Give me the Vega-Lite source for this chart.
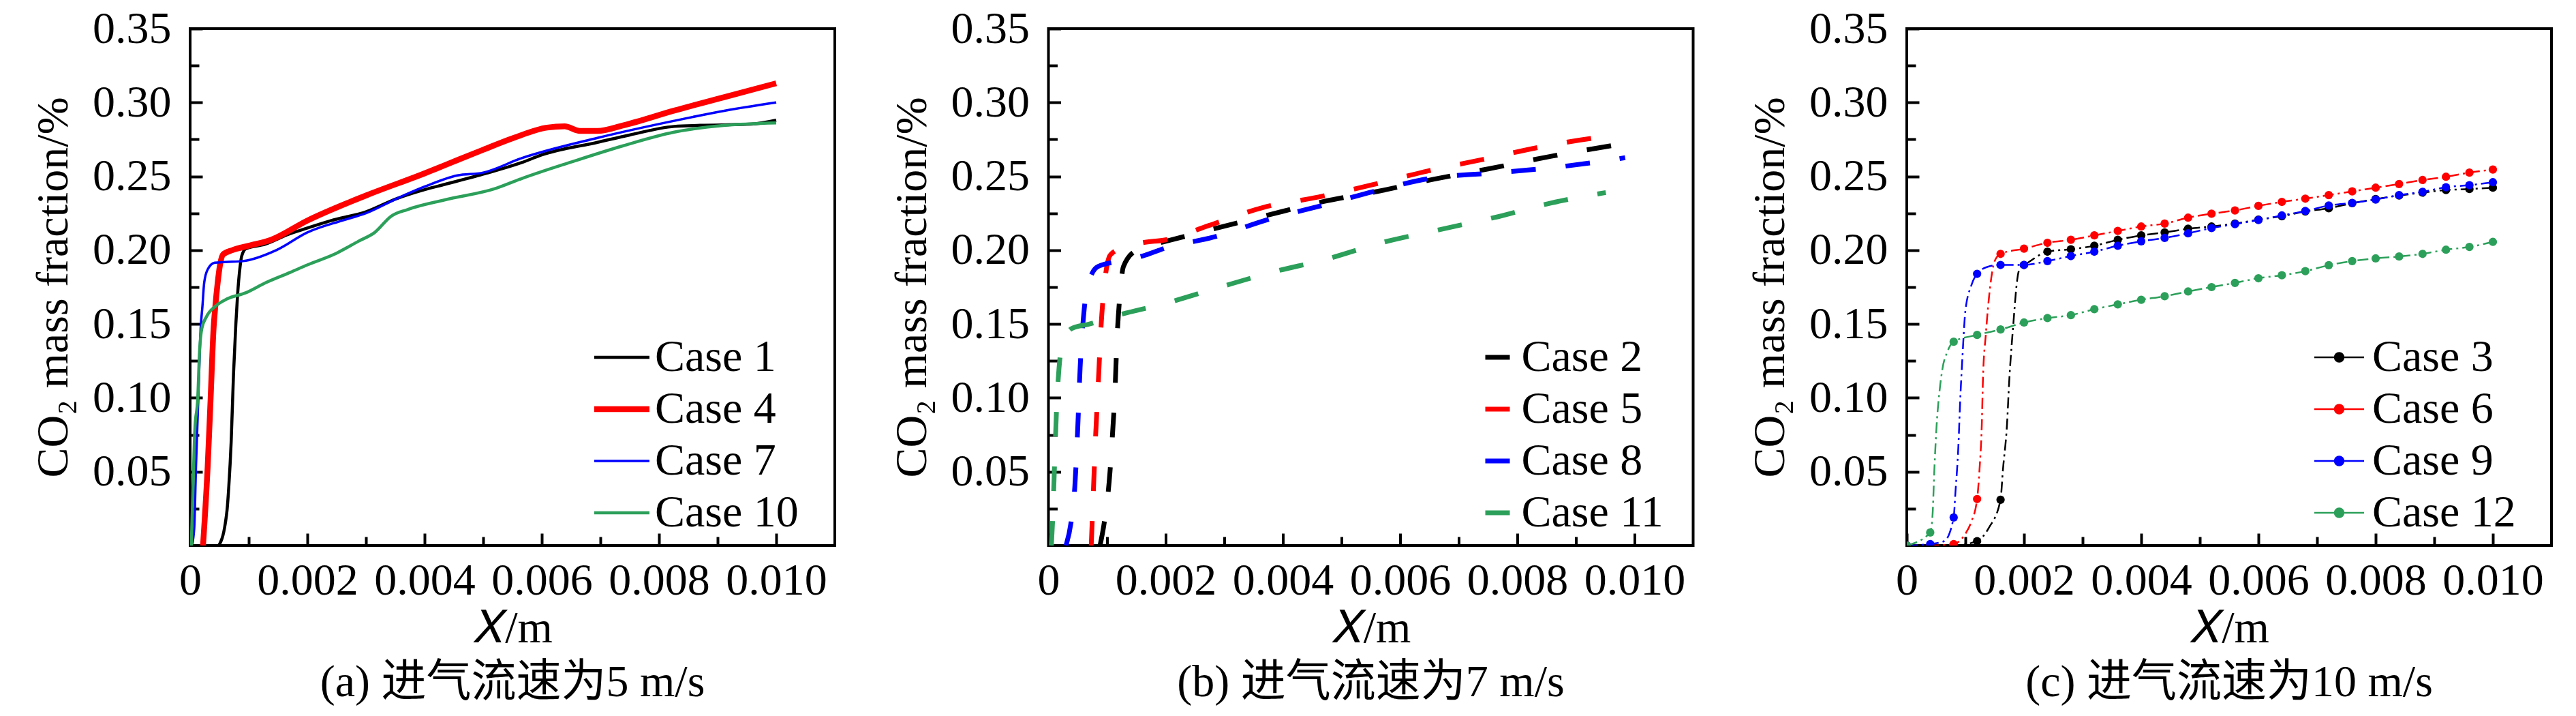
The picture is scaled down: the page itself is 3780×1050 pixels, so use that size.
{
  "$schema": "https://vega.github.io/schema/vega-lite/v6.json",
  "background": "white",
  "padding": {"left": 43, "top": 7, "right": 0, "bottom": 0},
  "datasets": {
    "a": [
      {"c": "Case 1", "x": 0.00049, "y": 0}, {"c": "Case 1", "x": 0.0006, "y": 0.015}, {"c": "Case 1", "x": 0.00063, "y": 0.024},
      {"c": "Case 1", "x": 0.00066, "y": 0.04}, {"c": "Case 1", "x": 0.0007, "y": 0.07}, {"c": "Case 1", "x": 0.00074, "y": 0.116},
      {"c": "Case 1", "x": 0.00078, "y": 0.15}, {"c": "Case 1", "x": 0.00081, "y": 0.17}, {"c": "Case 1", "x": 0.00085, "y": 0.188},
      {"c": "Case 1", "x": 0.00088, "y": 0.196}, {"c": "Case 1", "x": 0.00095, "y": 0.201}, {"c": "Case 1", "x": 0.00128, "y": 0.204},
      {"c": "Case 1", "x": 0.00166, "y": 0.2105}, {"c": "Case 1", "x": 0.002, "y": 0.215}, {"c": "Case 1", "x": 0.0024, "y": 0.22},
      {"c": "Case 1", "x": 0.003, "y": 0.226}, {"c": "Case 1", "x": 0.00353, "y": 0.235}, {"c": "Case 1", "x": 0.004, "y": 0.241},
      {"c": "Case 1", "x": 0.00435, "y": 0.2446}, {"c": "Case 1", "x": 0.005, "y": 0.2515}, {"c": "Case 1", "x": 0.00565, "y": 0.2592},
      {"c": "Case 1", "x": 0.006, "y": 0.2645}, {"c": "Case 1", "x": 0.00695, "y": 0.273}, {"c": "Case 1", "x": 0.0075, "y": 0.278},
      {"c": "Case 1", "x": 0.00826, "y": 0.2838}, {"c": "Case 1", "x": 0.0087, "y": 0.2845}, {"c": "Case 1", "x": 0.00957, "y": 0.2853},
      {"c": "Case 1", "x": 0.01, "y": 0.288},
      {"c": "Case 4", "x": 0.00022, "y": 0}, {"c": "Case 4", "x": 0.0003, "y": 0.054}, {"c": "Case 4", "x": 0.00035, "y": 0.1},
      {"c": "Case 4", "x": 0.0004, "y": 0.147}, {"c": "Case 4", "x": 0.00043, "y": 0.162}, {"c": "Case 4", "x": 0.00047, "y": 0.178},
      {"c": "Case 4", "x": 0.00051, "y": 0.19}, {"c": "Case 4", "x": 0.00056, "y": 0.197}, {"c": "Case 4", "x": 0.00072, "y": 0.2},
      {"c": "Case 4", "x": 0.001, "y": 0.203}, {"c": "Case 4", "x": 0.00138, "y": 0.207}, {"c": "Case 4", "x": 0.002, "y": 0.22},
      {"c": "Case 4", "x": 0.003, "y": 0.237}, {"c": "Case 4", "x": 0.004, "y": 0.252}, {"c": "Case 4", "x": 0.00435, "y": 0.2576},
      {"c": "Case 4", "x": 0.005, "y": 0.268}, {"c": "Case 4", "x": 0.00552, "y": 0.276}, {"c": "Case 4", "x": 0.00609, "y": 0.283},
      {"c": "Case 4", "x": 0.00639, "y": 0.2838}, {"c": "Case 4", "x": 0.00665, "y": 0.2807}, {"c": "Case 4", "x": 0.00695, "y": 0.2807},
      {"c": "Case 4", "x": 0.00739, "y": 0.2845}, {"c": "Case 4", "x": 0.00826, "y": 0.2945}, {"c": "Case 4", "x": 0.00913, "y": 0.3038},
      {"c": "Case 4", "x": 0.01, "y": 0.313},
      {"c": "Case 7", "x": 0.00003, "y": 0}, {"c": "Case 7", "x": 0.00007, "y": 0.012}, {"c": "Case 7", "x": 0.0001, "y": 0.054},
      {"c": "Case 7", "x": 0.00014, "y": 0.1}, {"c": "Case 7", "x": 0.00018, "y": 0.147}, {"c": "Case 7", "x": 0.00021, "y": 0.162},
      {"c": "Case 7", "x": 0.00024, "y": 0.178}, {"c": "Case 7", "x": 0.0003, "y": 0.187}, {"c": "Case 7", "x": 0.00042, "y": 0.1915},
      {"c": "Case 7", "x": 0.0006, "y": 0.192}, {"c": "Case 7", "x": 0.0009, "y": 0.1926}, {"c": "Case 7", "x": 0.00147, "y": 0.2},
      {"c": "Case 7", "x": 0.002, "y": 0.212}, {"c": "Case 7", "x": 0.00259, "y": 0.22}, {"c": "Case 7", "x": 0.003, "y": 0.225},
      {"c": "Case 7", "x": 0.00353, "y": 0.235}, {"c": "Case 7", "x": 0.004, "y": 0.243}, {"c": "Case 7", "x": 0.00456, "y": 0.2506},
      {"c": "Case 7", "x": 0.005, "y": 0.2525}, {"c": "Case 7", "x": 0.00565, "y": 0.2622}, {"c": "Case 7", "x": 0.00695, "y": 0.276},
      {"c": "Case 7", "x": 0.00826, "y": 0.2876}, {"c": "Case 7", "x": 0.00913, "y": 0.2945}, {"c": "Case 7", "x": 0.01, "y": 0.3},
      {"c": "Case 10", "x": 0.00002, "y": 0}, {"c": "Case 10", "x": 0.00005, "y": 0.04}, {"c": "Case 10", "x": 0.00008, "y": 0.078},
      {"c": "Case 10", "x": 0.00013, "y": 0.1}, {"c": "Case 10", "x": 0.00016, "y": 0.131}, {"c": "Case 10", "x": 0.0002, "y": 0.147},
      {"c": "Case 10", "x": 0.00028, "y": 0.155}, {"c": "Case 10", "x": 0.00043, "y": 0.162}, {"c": "Case 10", "x": 0.00063, "y": 0.167},
      {"c": "Case 10", "x": 0.00094, "y": 0.171}, {"c": "Case 10", "x": 0.00129, "y": 0.178}, {"c": "Case 10", "x": 0.00171, "y": 0.185},
      {"c": "Case 10", "x": 0.002, "y": 0.19}, {"c": "Case 10", "x": 0.0025, "y": 0.198}, {"c": "Case 10", "x": 0.00287, "y": 0.206},
      {"c": "Case 10", "x": 0.00315, "y": 0.212}, {"c": "Case 10", "x": 0.00343, "y": 0.223}, {"c": "Case 10", "x": 0.00371, "y": 0.2275},
      {"c": "Case 10", "x": 0.00435, "y": 0.2341}, {"c": "Case 10", "x": 0.00522, "y": 0.2419}, {"c": "Case 10", "x": 0.00565, "y": 0.2484},
      {"c": "Case 10", "x": 0.00652, "y": 0.2599}, {"c": "Case 10", "x": 0.00739, "y": 0.2707}, {"c": "Case 10", "x": 0.00826, "y": 0.2799},
      {"c": "Case 10", "x": 0.00913, "y": 0.2845}, {"c": "Case 10", "x": 0.01, "y": 0.2862}
    ],
    "b": [
      {"c": "Case 2", "x": 0.00088, "y": 0}, {"c": "Case 2", "x": 0.00095, "y": 0.015}, {"c": "Case 2", "x": 0.00105, "y": 0.05},
      {"c": "Case 2", "x": 0.0011, "y": 0.08}, {"c": "Case 2", "x": 0.00113, "y": 0.1}, {"c": "Case 2", "x": 0.00117, "y": 0.14},
      {"c": "Case 2", "x": 0.00122, "y": 0.17}, {"c": "Case 2", "x": 0.00128, "y": 0.189}, {"c": "Case 2", "x": 0.0015, "y": 0.2},
      {"c": "Case 2", "x": 0.0018, "y": 0.204}, {"c": "Case 2", "x": 0.002, "y": 0.206}, {"c": "Case 2", "x": 0.00283, "y": 0.2145},
      {"c": "Case 2", "x": 0.00377, "y": 0.224}, {"c": "Case 2", "x": 0.0047, "y": 0.233}, {"c": "Case 2", "x": 0.00564, "y": 0.24},
      {"c": "Case 2", "x": 0.00657, "y": 0.248}, {"c": "Case 2", "x": 0.0075, "y": 0.255}, {"c": "Case 2", "x": 0.00858, "y": 0.2636},
      {"c": "Case 2", "x": 0.00964, "y": 0.271},
      {"c": "Case 5", "x": 0.00073, "y": 0}, {"c": "Case 5", "x": 0.00076, "y": 0.03}, {"c": "Case 5", "x": 0.0008, "y": 0.07},
      {"c": "Case 5", "x": 0.00085, "y": 0.11}, {"c": "Case 5", "x": 0.0009, "y": 0.15}, {"c": "Case 5", "x": 0.00095, "y": 0.175},
      {"c": "Case 5", "x": 0.001, "y": 0.19}, {"c": "Case 5", "x": 0.00106, "y": 0.197}, {"c": "Case 5", "x": 0.0013, "y": 0.202},
      {"c": "Case 5", "x": 0.0016, "y": 0.205}, {"c": "Case 5", "x": 0.002, "y": 0.207}, {"c": "Case 5", "x": 0.00274, "y": 0.2167},
      {"c": "Case 5", "x": 0.00367, "y": 0.229}, {"c": "Case 5", "x": 0.00461, "y": 0.236}, {"c": "Case 5", "x": 0.00554, "y": 0.2444},
      {"c": "Case 5", "x": 0.00648, "y": 0.2537}, {"c": "Case 5", "x": 0.00741, "y": 0.2614}, {"c": "Case 5", "x": 0.00839, "y": 0.2698},
      {"c": "Case 5", "x": 0.00933, "y": 0.276}, {"c": "Case 5", "x": 0.00954, "y": 0.277},
      {"c": "Case 8", "x": 0.0003, "y": 0}, {"c": "Case 8", "x": 0.0004, "y": 0.02}, {"c": "Case 8", "x": 0.00045, "y": 0.04},
      {"c": "Case 8", "x": 0.0005, "y": 0.08}, {"c": "Case 8", "x": 0.00054, "y": 0.12}, {"c": "Case 8", "x": 0.00061, "y": 0.16},
      {"c": "Case 8", "x": 0.0007, "y": 0.18}, {"c": "Case 8", "x": 0.00085, "y": 0.189}, {"c": "Case 8", "x": 0.00129, "y": 0.193},
      {"c": "Case 8", "x": 0.0016, "y": 0.196}, {"c": "Case 8", "x": 0.002, "y": 0.2015}, {"c": "Case 8", "x": 0.00283, "y": 0.209},
      {"c": "Case 8", "x": 0.00377, "y": 0.221}, {"c": "Case 8", "x": 0.0047, "y": 0.2306}, {"c": "Case 8", "x": 0.00564, "y": 0.2407},
      {"c": "Case 8", "x": 0.00657, "y": 0.249}, {"c": "Case 8", "x": 0.0075, "y": 0.252}, {"c": "Case 8", "x": 0.00863, "y": 0.256},
      {"c": "Case 8", "x": 0.00965, "y": 0.2614}, {"c": "Case 8", "x": 0.00984, "y": 0.2626},
      {"c": "Case 11", "x": 0.00005, "y": 0}, {"c": "Case 11", "x": 0.00007, "y": 0.016}, {"c": "Case 11", "x": 0.0001, "y": 0.05},
      {"c": "Case 11", "x": 0.00014, "y": 0.094}, {"c": "Case 11", "x": 0.00018, "y": 0.12}, {"c": "Case 11", "x": 0.00025, "y": 0.138},
      {"c": "Case 11", "x": 0.0004, "y": 0.147}, {"c": "Case 11", "x": 0.0007, "y": 0.15}, {"c": "Case 11", "x": 0.0011, "y": 0.155},
      {"c": "Case 11", "x": 0.002, "y": 0.164}, {"c": "Case 11", "x": 0.00293, "y": 0.175}, {"c": "Case 11", "x": 0.00381, "y": 0.185},
      {"c": "Case 11", "x": 0.00475, "y": 0.194}, {"c": "Case 11", "x": 0.00568, "y": 0.205}, {"c": "Case 11", "x": 0.00664, "y": 0.2136},
      {"c": "Case 11", "x": 0.0076, "y": 0.222}, {"c": "Case 11", "x": 0.00858, "y": 0.232}, {"c": "Case 11", "x": 0.00951, "y": 0.239}
    ],
    "c": [
      {"c": "Case 3", "x": 0, "y": 0, "m": 1}, {"c": "Case 3", "x": 0.0004, "y": 0, "m": 1}, {"c": "Case 3", "x": 0.0008, "y": 0, "m": 1},
      {"c": "Case 3", "x": 0.0012, "y": 0.003, "m": 1}, {"c": "Case 3", "x": 0.0014, "y": 0.012, "m": 0}, {"c": "Case 3", "x": 0.0016, "y": 0.031, "m": 1},
      {"c": "Case 3", "x": 0.00164, "y": 0.051, "m": 0}, {"c": "Case 3", "x": 0.00171, "y": 0.082, "m": 0}, {"c": "Case 3", "x": 0.00175, "y": 0.113, "m": 0},
      {"c": "Case 3", "x": 0.00179, "y": 0.136, "m": 0}, {"c": "Case 3", "x": 0.00182, "y": 0.151, "m": 0}, {"c": "Case 3", "x": 0.00187, "y": 0.175, "m": 0},
      {"c": "Case 3", "x": 0.0019, "y": 0.184, "m": 0}, {"c": "Case 3", "x": 0.00195, "y": 0.189, "m": 0}, {"c": "Case 3", "x": 0.002, "y": 0.19, "m": 1},
      {"c": "Case 3", "x": 0.0024, "y": 0.199, "m": 1}, {"c": "Case 3", "x": 0.0028, "y": 0.2006, "m": 1}, {"c": "Case 3", "x": 0.0032, "y": 0.203, "m": 1},
      {"c": "Case 3", "x": 0.0036, "y": 0.207, "m": 1}, {"c": "Case 3", "x": 0.004, "y": 0.21, "m": 1}, {"c": "Case 3", "x": 0.0044, "y": 0.212, "m": 1},
      {"c": "Case 3", "x": 0.0048, "y": 0.2145, "m": 1}, {"c": "Case 3", "x": 0.0052, "y": 0.216, "m": 1}, {"c": "Case 3", "x": 0.0056, "y": 0.218, "m": 1},
      {"c": "Case 3", "x": 0.006, "y": 0.2207, "m": 1}, {"c": "Case 3", "x": 0.0064, "y": 0.223, "m": 1}, {"c": "Case 3", "x": 0.0068, "y": 0.2262, "m": 1},
      {"c": "Case 3", "x": 0.0072, "y": 0.2284, "m": 1}, {"c": "Case 3", "x": 0.0076, "y": 0.2318, "m": 1}, {"c": "Case 3", "x": 0.008, "y": 0.2346, "m": 1},
      {"c": "Case 3", "x": 0.0084, "y": 0.237, "m": 1}, {"c": "Case 3", "x": 0.0088, "y": 0.239, "m": 1}, {"c": "Case 3", "x": 0.0092, "y": 0.2407, "m": 1},
      {"c": "Case 3", "x": 0.0096, "y": 0.2414, "m": 1}, {"c": "Case 3", "x": 0.01, "y": 0.2423, "m": 1},
      {"c": "Case 6", "x": 0, "y": 0, "m": 1}, {"c": "Case 6", "x": 0.0004, "y": 0, "m": 1}, {"c": "Case 6", "x": 0.0008, "y": 0.001, "m": 1},
      {"c": "Case 6", "x": 0.001, "y": 0.008, "m": 0}, {"c": "Case 6", "x": 0.0011, "y": 0.016, "m": 0}, {"c": "Case 6", "x": 0.0012, "y": 0.0315, "m": 1},
      {"c": "Case 6", "x": 0.00124, "y": 0.051, "m": 0}, {"c": "Case 6", "x": 0.00128, "y": 0.082, "m": 0}, {"c": "Case 6", "x": 0.0013, "y": 0.113, "m": 0},
      {"c": "Case 6", "x": 0.00135, "y": 0.1436, "m": 0}, {"c": "Case 6", "x": 0.00142, "y": 0.1745, "m": 0}, {"c": "Case 6", "x": 0.00148, "y": 0.19, "m": 0},
      {"c": "Case 6", "x": 0.00155, "y": 0.196, "m": 0}, {"c": "Case 6", "x": 0.0016, "y": 0.1975, "m": 1}, {"c": "Case 6", "x": 0.002, "y": 0.201, "m": 1},
      {"c": "Case 6", "x": 0.0024, "y": 0.205, "m": 1}, {"c": "Case 6", "x": 0.0028, "y": 0.207, "m": 1}, {"c": "Case 6", "x": 0.0032, "y": 0.21, "m": 1},
      {"c": "Case 6", "x": 0.0036, "y": 0.213, "m": 1}, {"c": "Case 6", "x": 0.004, "y": 0.216, "m": 1}, {"c": "Case 6", "x": 0.0044, "y": 0.218, "m": 1},
      {"c": "Case 6", "x": 0.0048, "y": 0.222, "m": 1}, {"c": "Case 6", "x": 0.0052, "y": 0.2247, "m": 1}, {"c": "Case 6", "x": 0.0056, "y": 0.2269, "m": 1},
      {"c": "Case 6", "x": 0.006, "y": 0.23, "m": 1}, {"c": "Case 6", "x": 0.0064, "y": 0.2327, "m": 1}, {"c": "Case 6", "x": 0.0068, "y": 0.2349, "m": 1},
      {"c": "Case 6", "x": 0.0072, "y": 0.2373, "m": 1}, {"c": "Case 6", "x": 0.0076, "y": 0.2398, "m": 1}, {"c": "Case 6", "x": 0.008, "y": 0.2423, "m": 1},
      {"c": "Case 6", "x": 0.0084, "y": 0.2448, "m": 1}, {"c": "Case 6", "x": 0.0088, "y": 0.2475, "m": 1}, {"c": "Case 6", "x": 0.0092, "y": 0.2497, "m": 1},
      {"c": "Case 6", "x": 0.0096, "y": 0.2525, "m": 1}, {"c": "Case 6", "x": 0.01, "y": 0.2546, "m": 1},
      {"c": "Case 9", "x": 0, "y": 0, "m": 1}, {"c": "Case 9", "x": 0.0004, "y": 0.001, "m": 1}, {"c": "Case 9", "x": 0.00064, "y": 0.003, "m": 0},
      {"c": "Case 9", "x": 0.0008, "y": 0.019, "m": 1}, {"c": "Case 9", "x": 0.00083, "y": 0.036, "m": 0}, {"c": "Case 9", "x": 0.00088, "y": 0.067, "m": 0},
      {"c": "Case 9", "x": 0.00091, "y": 0.097, "m": 0}, {"c": "Case 9", "x": 0.00095, "y": 0.128, "m": 0}, {"c": "Case 9", "x": 0.001, "y": 0.159, "m": 0},
      {"c": "Case 9", "x": 0.0011, "y": 0.176, "m": 0}, {"c": "Case 9", "x": 0.0012, "y": 0.184, "m": 1}, {"c": "Case 9", "x": 0.0014, "y": 0.189, "m": 0},
      {"c": "Case 9", "x": 0.0016, "y": 0.19, "m": 1}, {"c": "Case 9", "x": 0.002, "y": 0.19, "m": 1}, {"c": "Case 9", "x": 0.0024, "y": 0.1926, "m": 1},
      {"c": "Case 9", "x": 0.0028, "y": 0.196, "m": 1}, {"c": "Case 9", "x": 0.0032, "y": 0.199, "m": 1}, {"c": "Case 9", "x": 0.0036, "y": 0.203, "m": 1},
      {"c": "Case 9", "x": 0.004, "y": 0.206, "m": 1}, {"c": "Case 9", "x": 0.0044, "y": 0.2083, "m": 1}, {"c": "Case 9", "x": 0.0048, "y": 0.2114, "m": 1},
      {"c": "Case 9", "x": 0.0052, "y": 0.215, "m": 1}, {"c": "Case 9", "x": 0.0056, "y": 0.2176, "m": 1}, {"c": "Case 9", "x": 0.006, "y": 0.2204, "m": 1},
      {"c": "Case 9", "x": 0.0064, "y": 0.2235, "m": 1}, {"c": "Case 9", "x": 0.0068, "y": 0.2265, "m": 1}, {"c": "Case 9", "x": 0.0072, "y": 0.2302, "m": 1},
      {"c": "Case 9", "x": 0.0076, "y": 0.232, "m": 1}, {"c": "Case 9", "x": 0.008, "y": 0.2343, "m": 1}, {"c": "Case 9", "x": 0.0084, "y": 0.2373, "m": 1},
      {"c": "Case 9", "x": 0.0088, "y": 0.2395, "m": 1}, {"c": "Case 9", "x": 0.0092, "y": 0.2426, "m": 1}, {"c": "Case 9", "x": 0.0096, "y": 0.244, "m": 1},
      {"c": "Case 9", "x": 0.01, "y": 0.246, "m": 1},
      {"c": "Case 12", "x": 0, "y": 0, "m": 1}, {"c": "Case 12", "x": 0.0004, "y": 0.0088, "m": 1}, {"c": "Case 12", "x": 0.00044, "y": 0.021, "m": 0},
      {"c": "Case 12", "x": 0.00047, "y": 0.051, "m": 0}, {"c": "Case 12", "x": 0.00051, "y": 0.082, "m": 0}, {"c": "Case 12", "x": 0.00056, "y": 0.105, "m": 0},
      {"c": "Case 12", "x": 0.00061, "y": 0.12, "m": 0}, {"c": "Case 12", "x": 0.00069, "y": 0.131, "m": 0}, {"c": "Case 12", "x": 0.0008, "y": 0.138, "m": 1},
      {"c": "Case 12", "x": 0.0012, "y": 0.1426, "m": 1}, {"c": "Case 12", "x": 0.0016, "y": 0.1463, "m": 1}, {"c": "Case 12", "x": 0.002, "y": 0.151, "m": 1},
      {"c": "Case 12", "x": 0.0024, "y": 0.154, "m": 1}, {"c": "Case 12", "x": 0.0028, "y": 0.156, "m": 1}, {"c": "Case 12", "x": 0.0032, "y": 0.16, "m": 1},
      {"c": "Case 12", "x": 0.0036, "y": 0.1633, "m": 1}, {"c": "Case 12", "x": 0.004, "y": 0.1664, "m": 1}, {"c": "Case 12", "x": 0.0044, "y": 0.1688, "m": 1},
      {"c": "Case 12", "x": 0.0048, "y": 0.172, "m": 1}, {"c": "Case 12", "x": 0.0052, "y": 0.175, "m": 1}, {"c": "Case 12", "x": 0.0056, "y": 0.1778, "m": 1},
      {"c": "Case 12", "x": 0.006, "y": 0.181, "m": 1}, {"c": "Case 12", "x": 0.0064, "y": 0.183, "m": 1}, {"c": "Case 12", "x": 0.0068, "y": 0.1858, "m": 1},
      {"c": "Case 12", "x": 0.0072, "y": 0.1898, "m": 1}, {"c": "Case 12", "x": 0.0076, "y": 0.1926, "m": 1}, {"c": "Case 12", "x": 0.008, "y": 0.1944, "m": 1},
      {"c": "Case 12", "x": 0.0084, "y": 0.1957, "m": 1}, {"c": "Case 12", "x": 0.0088, "y": 0.1975, "m": 1}, {"c": "Case 12", "x": 0.0092, "y": 0.2003, "m": 1},
      {"c": "Case 12", "x": 0.0096, "y": 0.2022, "m": 1}, {"c": "Case 12", "x": 0.01, "y": 0.2056, "m": 1}
    ]
  },
  "spacing": 75.5,
  "hconcat": [
    {
      "width": 946,
      "height": 758,
      "title": {"text": "(a) 进气流速为5 m/s"},
      "data": {"name": "a"},
      "layer": [
        {
          "mark": {"type": "line", "interpolate": "monotone", "clip": true},
          "encoding": {
            "x": {
              "field": "x", "type": "quantitative",
              "scale": {"domain": [0, 0.011], "nice": false, "zero": false},
              "axis": {"values": [0, 0.002, 0.004, 0.006, 0.008, 0.01], "labelExpr": "datum.value == 0 ? '0' : format(datum.value, '.3f')", "title": "𝑋/m"}
            },
            "y": {
              "field": "y", "type": "quantitative",
              "scale": {"domain": [0, 0.35], "nice": false},
              "axis": {"values": [0.05, 0.1, 0.15, 0.2, 0.25, 0.3, 0.35], "format": ".2f", "title": "CO₂ mass fraction/%"}
            },
            "color": {
              "field": "c", "type": "nominal", "sort": null,
              "scale": {"domain": ["Case 1", "Case 4", "Case 7", "Case 10"], "range": ["#000000", "#ff0000", "#0000ff", "#2ca05a"]},
              "legend": {"legendX": 593, "legendY": 449, "symbolType": "M-1.65,0H2.4", "symbolSize": 1600, "labelOffset": 23}
            },
            "strokeWidth": {
              "field": "c", "type": "nominal", "sort": null,
              "scale": {"type": "ordinal", "domain": ["Case 1", "Case 4", "Case 7", "Case 10"], "range": [4.5, 8.5, 3.5, 4.5]},
              "legend": {"legendX": 593, "legendY": 449, "symbolType": "M-1.65,0H2.4", "symbolSize": 1600, "labelOffset": 23}
            }
          }
        },
        {
          "mark": {"type": "point", "opacity": 0},
          "encoding": {
            "x": {"field": "x", "type": "quantitative", "scale": {"domain": [0, 0.011], "nice": false, "zero": false},
              "axis": {"orient": "bottom", "values": [0.001, 0.003, 0.005, 0.007, 0.009], "labels": false, "tickSize": -13, "title": null}},
            "y": {"field": "y", "type": "quantitative", "scale": {"domain": [0, 0.35], "nice": false},
              "axis": {"orient": "left", "values": [0.025, 0.075, 0.125, 0.175, 0.225, 0.275, 0.325], "labels": false, "tickSize": -13, "title": null}}
          }
        }
      ],
      "resolve": {"axis": {"x": "independent", "y": "independent"}}
    },
    {
      "width": 946,
      "height": 758,
      "title": {"text": "(b) 进气流速为7 m/s"},
      "data": {"name": "b"},
      "layer": [
        {
          "mark": {"type": "line", "interpolate": "monotone", "clip": true, "strokeWidth": 7, "strokeDash": [36, 44]},
          "encoding": {
            "x": {
              "field": "x", "type": "quantitative",
              "scale": {"domain": [0, 0.011], "nice": false, "zero": false},
              "axis": {"values": [0, 0.002, 0.004, 0.006, 0.008, 0.01], "labelExpr": "datum.value == 0 ? '0' : format(datum.value, '.3f')", "title": "𝑋/m"}
            },
            "y": {
              "field": "y", "type": "quantitative",
              "scale": {"domain": [0, 0.35], "nice": false},
              "axis": {"values": [0.05, 0.1, 0.15, 0.2, 0.25, 0.3, 0.35], "format": ".2f", "title": "CO₂ mass fraction/%"}
            },
            "color": {
              "field": "c", "type": "nominal", "sort": null,
              "scale": {"domain": ["Case 2", "Case 5", "Case 8", "Case 11"], "range": ["#000000", "#ff0000", "#0000ff", "#2ca05a"]},
              "legend": {"legendX": 641, "legendY": 449, "symbolType": "M-1.833,0H0.167", "symbolSize": 1296, "symbolStrokeWidth": 7, "labelOffset": -13}
            }
          }
        },
        {
          "mark": {"type": "point", "opacity": 0},
          "encoding": {
            "x": {"field": "x", "type": "quantitative", "scale": {"domain": [0, 0.011], "nice": false, "zero": false},
              "axis": {"orient": "bottom", "values": [0.001, 0.003, 0.005, 0.007, 0.009], "labels": false, "tickSize": -13, "title": null}},
            "y": {"field": "y", "type": "quantitative", "scale": {"domain": [0, 0.35], "nice": false},
              "axis": {"orient": "left", "values": [0.025, 0.075, 0.125, 0.175, 0.225, 0.275, 0.325], "labels": false, "tickSize": -13, "title": null}}
          }
        }
      ],
      "resolve": {"axis": {"x": "independent", "y": "independent"}}
    },
    {
      "width": 946,
      "height": 758,
      "title": {"text": "(c) 进气流速为10 m/s"},
      "data": {"name": "c"},
      "layer": [
        {
          "mark": {"type": "line", "interpolate": "monotone", "clip": true, "strokeWidth": 2.5, "strokeDash": [16, 6, 3, 6]},
          "encoding": {
            "x": {
              "field": "x", "type": "quantitative",
              "scale": {"domain": [0, 0.011], "nice": false, "zero": false},
              "axis": {"values": [0, 0.002, 0.004, 0.006, 0.008, 0.01], "labelExpr": "datum.value == 0 ? '0' : format(datum.value, '.3f')", "title": "𝑋/m"}
            },
            "y": {
              "field": "y", "type": "quantitative",
              "scale": {"domain": [0, 0.35], "nice": false},
              "axis": {"values": [0.05, 0.1, 0.15, 0.2, 0.25, 0.3, 0.35], "format": ".2f", "title": "CO₂ mass fraction/%"}
            },
            "color": {
              "field": "c", "type": "nominal", "sort": null,
              "scale": {"domain": ["Case 3", "Case 6", "Case 9", "Case 12"], "range": ["#000000", "#ff0000", "#0000ff", "#2ca05a"]},
              "legend": {"legendX": 598, "legendY": 449, "symbolType": "M-1.65,0H2M0.5,0A0.325,0.325,0,1,1,-0.15,0A0.325,0.325,0,1,1,0.5,0Z", "symbolSize": 1600, "symbolStrokeWidth": 2.5, "labelOffset": 19}
            }
          }
        },
        {
          "transform": [{"filter": "datum.m == 1"}],
          "mark": {"type": "point", "filled": true, "opacity": 1, "size": 150, "clip": true},
          "encoding": {
            "x": {"field": "x", "type": "quantitative", "scale": {"domain": [0, 0.011], "nice": false, "zero": false}, "axis": null},
            "y": {"field": "y", "type": "quantitative", "scale": {"domain": [0, 0.35], "nice": false}, "axis": null},
            "fill": {
              "field": "c", "type": "nominal", "sort": null,
              "scale": {"domain": ["Case 3", "Case 6", "Case 9", "Case 12"], "range": ["#000000", "#ff0000", "#0000ff", "#2ca05a"]},
              "legend": {"legendX": 598, "legendY": 449, "symbolType": "M-1.65,0H2M0.5,0A0.325,0.325,0,1,1,-0.15,0A0.325,0.325,0,1,1,0.5,0Z", "symbolSize": 1600, "symbolStrokeWidth": 2.5, "labelOffset": 19}
            }
          }
        },
        {
          "mark": {"type": "point", "opacity": 0},
          "encoding": {
            "x": {"field": "x", "type": "quantitative", "scale": {"domain": [0, 0.011], "nice": false, "zero": false},
              "axis": {"orient": "bottom", "values": [0.001, 0.003, 0.005, 0.007, 0.009], "labels": false, "tickSize": -13, "title": null}},
            "y": {"field": "y", "type": "quantitative", "scale": {"domain": [0, 0.35], "nice": false},
              "axis": {"orient": "left", "values": [0.025, 0.075, 0.125, 0.175, 0.225, 0.275, 0.325], "labels": false, "tickSize": -13, "title": null}}
          }
        }
      ],
      "resolve": {"axis": {"x": "independent", "y": "independent"}}
    }
  ],
  "resolve": {
    "scale": {"color": "independent", "fill": "independent", "strokeWidth": "independent", "x": "independent", "y": "independent"},
    "legend": {"color": "independent", "fill": "independent", "strokeWidth": "independent"}
  },
  "config": {
    "view": {"stroke": "black", "strokeWidth": 4},
    "font": "Liberation Serif",
    "axis": {
      "labelFont": "Liberation Serif", "labelFontSize": 66, "labelColor": "black",
      "titleFont": "Liberation Serif", "titleFontSize": 66, "titleFontWeight": "normal", "titleColor": "black",
      "tickColor": "black", "tickWidth": 4, "tickSize": -18, "grid": false, "domain": false,
      "labelFlush": false, "labelOverlap": false
    },
    "axisX": {"labelPadding": 37, "titlePadding": 5},
    "axisY": {"labelPadding": 46, "titlePadding": 23},
    "legend": {
      "orient": "none", "title": null, "padding": 0, "rowPadding": 10,
      "labelFont": "Liberation Serif", "labelFontSize": 66, "labelColor": "black", "labelLimit": 0,
      "symbolStrokeWidth": 4
    },
    "title": {
      "orient": "bottom", "anchor": "middle", "frame": "group", "offset": 15,
      "font": "Liberation Serif, Noto Sans CJK SC", "fontSize": 66, "fontWeight": "normal", "color": "black"
    }
  }
}
